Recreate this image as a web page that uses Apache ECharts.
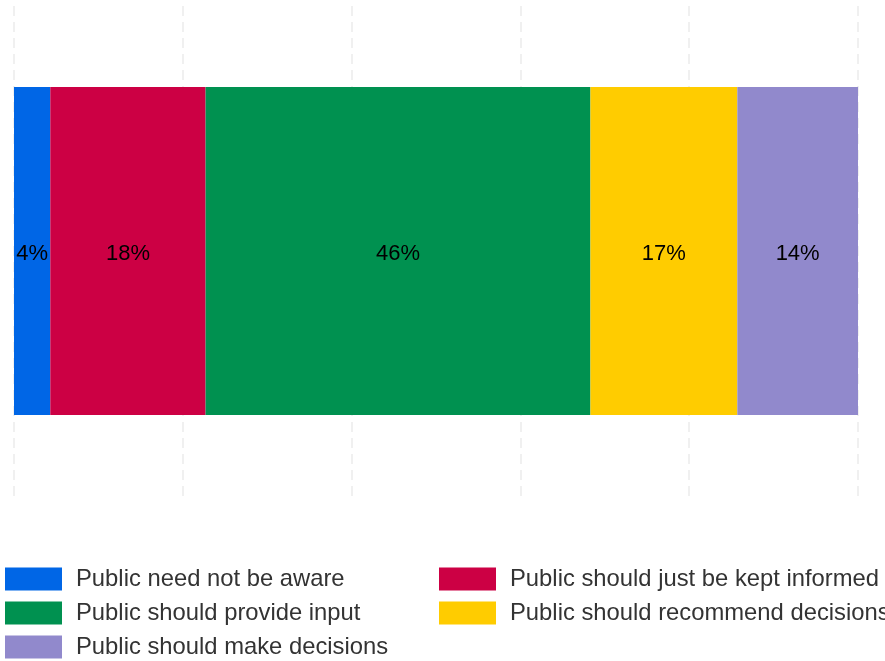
<!DOCTYPE html>
<html>
<head>
<meta charset="utf-8">
<script src="https://cdn.jsdelivr.net/npm/echarts@6/dist/echarts.min.js"></script>
<style>html,body{margin:0;padding:0;background:#fff;}#c{width:885px;height:661px;}</style>
</head>
<body>
<div id="c"></div>
<script>
const categories = ['Response'];
const seriesNames = [
  'Public need not be aware',
  'Public should just be kept informed',
  'Public should provide input',
  'Public should recommend decisions',
  'Public should make decisions'
];
const seriesValues = [4.3, 18.4, 45.6, 17.4, 14.3];
const seriesColors = ['#0066e6', '#cc0044', '#009150', '#ffcc00', '#9189cc'];
const xTicks = [0, 20, 40, 60, 80, 100];

const chart = echarts.init(document.getElementById('c'));
const series = seriesNames.map((name, i) => ({
  name: name,
  type: 'bar',
  stack: 'total',
  barWidth: 328,
  data: [seriesValues[i]],
  itemStyle: { color: seriesColors[i] },
  label: {
    show: true,
    position: 'inside',
    offset: [0, 3],
    color: '#000',
    fontSize: 22,
    fontFamily: 'Liberation Sans, Arial, sans-serif',
    formatter: p => Math.round(p.value) + '%'
  }
}));
const legendCommon = {
  orient: 'vertical',
  itemWidth: 57,
  itemHeight: 23,
  itemGap: 10,
  icon: 'rect',
  height: 200,
  textStyle: { fontSize: 23.8, color: '#333', fontFamily: 'Liberation Sans, Arial, sans-serif', padding: [0,0,0,9] },
  top: 562
};
chart.setOption({
  animation: false,
  grid: { left: 14, right: 27, top: 6, bottom: 165 },
  xAxis: {
    type: 'value', min: xTicks[0], max: xTicks[xTicks.length - 1], interval: 20,
    axisLabel: { show: false }, axisLine: { show: false }, axisTick: { show: false },
    splitLine: { show: true, lineStyle: { color: '#ebebeb', type: [10, 6], width: 1.5 } }
  },
  yAxis: {
    type: 'category', data: categories,
    axisLabel: { show: false }, axisLine: { show: false }, axisTick: { show: false }
  },
  legend: [
    Object.assign({}, legendCommon, { left: 0, data: [seriesNames[0], seriesNames[2], seriesNames[4]] }),
    Object.assign({}, legendCommon, { left: 434, data: [seriesNames[1], seriesNames[3]] })
  ],
  series: series
});
</script>
</body>
</html>
